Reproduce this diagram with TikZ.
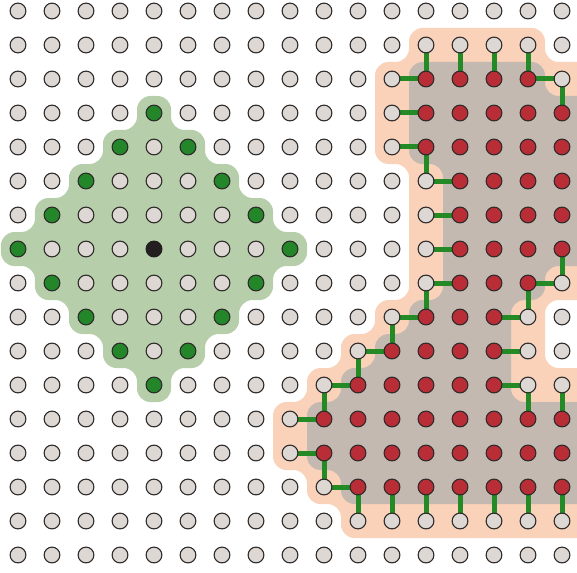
\documentclass[tikz,border=0pt]{standalone}
\definecolor{nodegray}{HTML}{DDD8D3}
\definecolor{nodered}{HTML}{B92D37}
\definecolor{nodegreen}{HTML}{23872A}
\definecolor{nodeblack}{HTML}{231F20}
\definecolor{ptline}{HTML}{2E2A2A}
\definecolor{linkgreen}{HTML}{238A25}
\definecolor{diamondfill}{HTML}{B6CEAA}
\definecolor{outerfill}{HTML}{FAD2B9}
\definecolor{innerfill}{HTML}{C3B9B1}
\pgfdeclarelayer{regions}
\pgfdeclarelayer{links}
\pgfsetlayers{regions,links,main}
\tikzset{
  pt/.style={circle, draw=ptline, line width=1.1pt, minimum size=15.8pt, inner sep=0pt, outer sep=0pt},
  graypt/.style={pt, fill=nodegray},
  redpt/.style={pt, fill=nodered},
  greenpt/.style={pt, fill=nodegreen},
  blackpt/.style={pt, fill=nodeblack, draw=nodeblack},
  link/.style={draw=linkgreen, line width=5pt},
  region/.style={rounded corners=13.5pt},
}
\def\setty#1#2#3{\expandafter\xdef\csname ty-#1-#2\endcsname{#3}}
\begin{document}
\begin{tikzpicture}[x=34pt, y=-34pt]
\useasboundingbox (-0.52941,-0.32353) rectangle (16.44118,16.5);
% cell types
\foreach \rr/\lo/\hi in {2/12/15,3/12/16,4/12/16,5/13/16,6/13/16,7/13/16,8/13/15,9/12/14,10/11/14,11/10/14,12/9/16,13/9/16,14/10/16}{
  \foreach \cc in {\lo,...,\hi}{\setty{\cc}{\rr}{redpt}}}
\foreach \cc/\rr in {4/3,3/4,5/4,2/5,6/5,1/6,7/6,0/7,8/7,1/8,7/8,2/9,6/9,3/10,5/10,4/11}{\setty{\cc}{\rr}{greenpt}}
\setty{4}{7}{blackpt}
% nodes
\foreach \cc in {0,...,16}{\foreach \rr in {0,...,16}{%
  \ifcsname ty-\cc-\rr\endcsname \edef\ty{\csname ty-\cc-\rr\endcsname}\else\def\ty{graypt}\fi
  \edef\mk{\noexpand\node[\ty] (n-\cc-\rr) at (\cc,\rr) {};}\mk}}
% regions
\begin{pgfonlayer}{regions}
\fill[outerfill, region] (11.5,0.5) -- (15.5,0.5) -- (15.5,1.5) -- (17,1.5) -- (17,8.5) -- (15.5,8.5) -- (15.5,10.5) -- (17,10.5) -- (17,15.5) -- (9.5,15.5) -- (9.5,14.5) -- (8.5,14.5) -- (8.5,13.5) -- (7.5,13.5) -- (7.5,11.5) -- (8.5,11.5) -- (8.5,10.5) -- (9.5,10.5) -- (9.5,9.5) -- (10.5,9.5) -- (10.5,8.5) -- (11.5,8.5) -- (11.5,4.5) -- (10.5,4.5) -- (10.5,1.5) -- (11.5,1.5) -- cycle;
\fill[innerfill, region] (11.5,1.5) -- (15.5,1.5) -- (15.5,2.5) -- (17,2.5) -- (17,7.5) -- (15.5,7.5) -- (15.5,8.5) -- (14.5,8.5) -- (14.5,11.5) -- (17,11.5) -- (17,14.5) -- (9.5,14.5) -- (9.5,13.5) -- (8.5,13.5) -- (8.5,11.5) -- (9.5,11.5) -- (9.5,10.5) -- (10.5,10.5) -- (10.5,9.5) -- (11.5,9.5) -- (11.5,8.5) -- (12.5,8.5) -- (12.5,4.5) -- (11.5,4.5) -- cycle;
\fill[diamondfill, region] (3.5,2.5) -- (4.5,2.5) -- (4.5,3.5) -- (5.5,3.5) -- (5.5,4.5) -- (6.5,4.5) -- (6.5,5.5) -- (7.5,5.5) -- (7.5,6.5) -- (8.5,6.5) -- (8.5,7.5) -- (7.5,7.5) -- (7.5,8.5) -- (6.5,8.5) -- (6.5,9.5) -- (5.5,9.5) -- (5.5,10.5) -- (4.5,10.5) -- (4.5,11.5) -- (3.5,11.5) -- (3.5,10.5) -- (2.5,10.5) -- (2.5,9.5) -- (1.5,9.5) -- (1.5,8.5) -- (0.5,8.5) -- (0.5,7.5) -- (-0.5,7.5) -- (-0.5,6.5) -- (0.5,6.5) -- (0.5,5.5) -- (1.5,5.5) -- (1.5,4.5) -- (2.5,4.5) -- (2.5,3.5) -- (3.5,3.5) -- cycle;
\end{pgfonlayer}
% links
\begin{pgfonlayer}{links}
\foreach \ga/\gb/\ra/\rb in {12/1/12/2,13/1/13/2,14/1/14/2,15/1/15/2,
  11/2/12/2,11/3/12/3,11/4/12/4,16/2/15/2,16/2/16/3,
  12/5/12/4,12/5/13/5,12/6/13/6,12/7/13/7,12/8/13/8,12/8/12/9,
  16/8/16/7,16/8/15/8,15/9/15/8,15/9/14/9,15/10/14/10,15/11/14/11,15/11/15/12,16/11/16/12,
  11/9/12/9,11/9/11/10,10/10/11/10,10/10/10/11,9/11/10/11,9/11/9/12,
  8/12/9/12,8/13/9/13,9/14/9/13,9/14/10/14,
  10/15/10/14,11/15/11/14,12/15/12/14,13/15/13/14,14/15/14/14,15/15/15/14,16/15/16/14}
  {\draw[link] (n-\ga-\gb.center) -- (n-\ra-\rb.center);}
\end{pgfonlayer}
\end{tikzpicture}
\end{document}
